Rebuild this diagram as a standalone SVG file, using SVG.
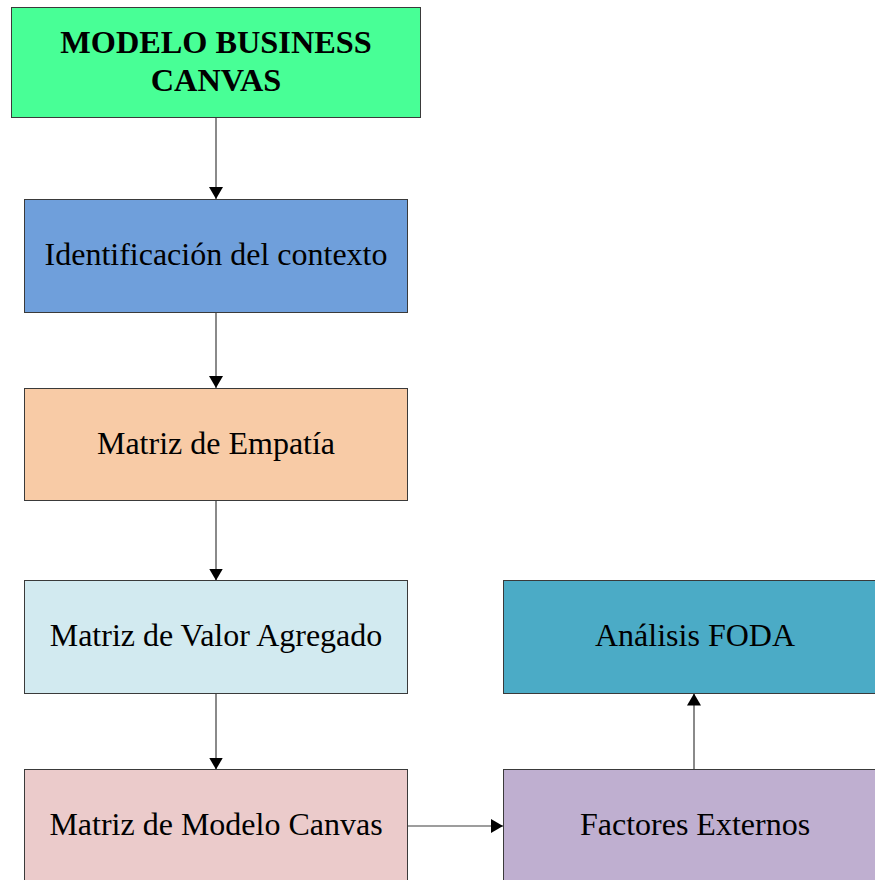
<svg xmlns="http://www.w3.org/2000/svg" width="875" height="880" viewBox="0 0 875 880">
  <style>
    .box { stroke: #3a3a3a; stroke-width: 1; }
    .lbl { font-family: "Liberation Serif", "Times New Roman", serif; font-size: 32px; fill: #000; text-anchor: middle; }
    .title { font-weight: bold; font-size: 32.3px; }
    .edge { stroke: #3c3c3c; stroke-width: 1.2; fill: none; marker-end: url(#arrow); }
  </style>
  <defs>
    <marker id="arrow" viewBox="0 0 12 14" refX="12" refY="7" markerWidth="12" markerHeight="14" markerUnits="userSpaceOnUse" orient="auto">
      <path d="M0,0 L12,7 L0,14 Z" fill="#000"/>
    </marker>
  </defs>

  <!-- connectors -->
  <g id="connectors">
    <line class="edge" x1="216" y1="117.5" x2="216" y2="199"/>
    <line class="edge" x1="216" y1="312" x2="216" y2="388"/>
    <line class="edge" x1="216" y1="500.5" x2="216" y2="580.5"/>
    <line class="edge" x1="216" y1="693.5" x2="216" y2="769.5"/>
    <line class="edge" x1="407.5" y1="826" x2="503" y2="826"/>
    <line class="edge" x1="694" y1="769.5" x2="694" y2="693.5"/>
  </g>

  <!-- nodes -->
  <g id="node-canvas-title">
    <rect class="box" x="11.5" y="7.5" width="409" height="110" fill="#48FF96"/>
    <text class="lbl title" x="216" y="53">MODELO BUSINESS</text>
    <text class="lbl title" x="216" y="91">CANVAS</text>
  </g>

  <g id="node-contexto">
    <rect class="box" x="24.5" y="199.5" width="383" height="113" fill="#6F9FDB"/>
    <text class="lbl" x="216" y="265">Identificación del contexto</text>
  </g>

  <g id="node-empatia">
    <rect class="box" x="24.5" y="388.5" width="383" height="112" fill="#F8CBA6"/>
    <text class="lbl" x="216" y="454">Matriz de Empatía</text>
  </g>

  <g id="node-valor">
    <rect class="box" x="24.5" y="580.5" width="383" height="113" fill="#D2EAF0"/>
    <text class="lbl" x="216" y="646">Matriz de Valor Agregado</text>
  </g>

  <g id="node-modelo">
    <rect class="box" x="24.5" y="769.5" width="383" height="113" fill="#EBCBCB"/>
    <text class="lbl" x="216" y="835">Matriz de Modelo Canvas</text>
  </g>

  <g id="node-foda">
    <rect class="box" x="503.5" y="580.5" width="383" height="113" fill="#4BABC6"/>
    <text class="lbl" x="695" y="646">Análisis FODA</text>
  </g>

  <g id="node-factores">
    <rect class="box" x="503.5" y="769.5" width="383" height="113" fill="#BFAFD0"/>
    <text class="lbl" x="695" y="835">Factores Externos</text>
  </g>
</svg>
